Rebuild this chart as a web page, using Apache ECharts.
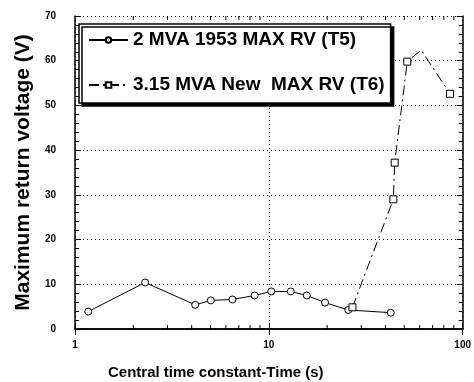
<!DOCTYPE html>
<html>
<head>
<meta charset="utf-8">
<script src="https://cdn.jsdelivr.net/npm/echarts@6/dist/echarts.min.js"></script>
<style>
html,body{margin:0;padding:0;background:#fff;}
#chart{width:474px;height:382px;}
</style>
</head>
<body>
<div id="chart"></div>
<script>
// ---- data ----
const seriesNames = ['2 MVA 1953 MAX RV (T5)', '3.15 MVA New  MAX RV (T6)'];
const t5X = [1.17, 2.30, 4.17, 5.02, 6.49, 8.45, 10.3, 12.97, 15.7, 19.5, 25.7, 42.6];
const t5Y = [3.9, 10.4, 5.4, 6.4, 6.6, 7.5, 8.4, 8.4, 7.5, 5.9, 4.25, 3.65];
const t6X = [27.0, 43.9, 44.6, 51.8, 61.1, 86.1];
const t6Y = [4.85, 29.0, 37.2, 59.8, 62.4, 52.6];
const t6HasMarker = [true, true, true, true, false, true];
const yTicks = [0, 10, 20, 30, 40, 50, 60, 70];
const xTicks = [1, 10, 100];
const xMinorTicks = [2, 3, 4, 5, 6, 7, 8, 9, 20, 30, 40, 50, 60, 70, 80, 90];
const xTitle = 'Central time constant-Time (s)';
const yTitle = 'Maximum return voltage (V)';

const FONT = '"Liberation Sans", Arial, sans-serif';
const chart = echarts.init(document.getElementById('chart'), null, {renderer: 'canvas'});

const t5Data = t5X.map((x, i) => [x, t5Y[i]]);
const t6Data = t6X.map((x, i) => t6HasMarker[i] ? [x, t6Y[i]] : {value: [x, t6Y[i]], symbol: 'none'});

const frame = {show: true, lineStyle: {color: '#000', width: 1.5}};
const dotted = {show: true, lineStyle: {color: '#000', width: 1, type: [1, 3]}};

function xAxisCfg(pos, labels) {
  return {
    type: 'log', logBase: 10, min: xTicks[0], max: xTicks[xTicks.length - 1], position: pos,
    axisLine: frame,
    axisTick: {show: true, inside: true, length: 6, lineStyle: {color: '#000', width: 1}},
    splitLine: labels ? dotted : {show: false},
    axisLabel: labels ? {show: true, fontFamily: FONT, fontWeight: 'bold', fontSize: 10, color: '#000', margin: 11} : {show: false}
  };
}
function yAxisCfg(pos, labels) {
  return {
    type: 'value', min: yTicks[0], max: yTicks[yTicks.length - 1], interval: 10, position: pos,
    axisLine: frame,
    axisTick: {show: true, inside: true, length: 6, lineStyle: {color: '#000', width: 1}},
    minorTick: {show: true, splitNumber: 5, length: 4, lineStyle: {color: '#000', width: 1}},
    splitLine: labels ? dotted : {show: false},
    axisLabel: labels ? {show: true, fontFamily: FONT, fontWeight: 'bold', fontSize: 10, color: '#000', margin: 19} : {show: false},
    name: labels ? yTitle : '',
    nameLocation: 'middle', nameGap: 41,
    nameTextStyle: {fontFamily: FONT, fontWeight: 'bold', fontSize: 21, color: '#000'}
  };
}

chart.setOption({
  animation: false,
  backgroundColor: '#fff',
  grid: {left: 75, right: 9, top: 16, bottom: 53, containLabel: false},
  xAxis: [xAxisCfg('bottom', true), xAxisCfg('top', false)],
  yAxis: [yAxisCfg('left', true), yAxisCfg('right', false)],
  legend: {
    orient: 'vertical', left: 79, top: 24,
    padding: [5, 6, 7, 9], itemGap: 23, itemWidth: 39, itemHeight: 7,
    backgroundColor: '#fff', borderColor: '#000', borderWidth: 1.5, borderRadius: 0,
    shadowColor: '#000', shadowBlur: 0, shadowOffsetX: 3, shadowOffsetY: 3,
    textStyle: {fontFamily: FONT, fontWeight: 'bold', fontSize: 19, color: '#000', lineHeight: 22},
    data: seriesNames
  },
  graphic: [{
    type: 'text', left: 108, top: 365,
    style: {text: xTitle, font: 'bold 15px ' + FONT, fill: '#000'}
  }],
  series: [
    {
      name: seriesNames[0], type: 'line', data: t5Data,
      symbol: 'circle', symbolSize: 7, showAllSymbol: true,
      itemStyle: {color: '#fff', borderColor: '#000', borderWidth: 1},
      lineStyle: {color: '#000', width: 1}, z: 3
    },
    {
      name: seriesNames[1], type: 'line', data: t6Data,
      symbol: 'rect', symbolSize: 7, showAllSymbol: true,
      itemStyle: {color: '#fff', borderColor: '#000', borderWidth: 1},
      lineStyle: {color: '#000', width: 1, type: [10, 4, 2, 4]}, z: 4
    },
    {
      // log-scale minor ticks on bottom and top frame, placed through the axis scale
      type: 'custom', silent: true, z: 1,
      data: xMinorTicks.map(v => [v]),
      encode: {x: 0},
      renderItem: function (params, api) {
        const v = api.value(0);
        const b = api.coord([v, yTicks[0]]);
        const t = api.coord([v, yTicks[yTicks.length - 1]]);
        const st = {stroke: '#000', lineWidth: 1};
        return {
          type: 'group',
          children: [
            {type: 'line', shape: {x1: b[0], y1: b[1], x2: b[0], y2: b[1] - 4}, style: st},
            {type: 'line', shape: {x1: t[0], y1: t[1], x2: t[0], y2: t[1] + 4}, style: st}
          ]
        };
      }
    }
  ]
});
</script>
</body>
</html>
